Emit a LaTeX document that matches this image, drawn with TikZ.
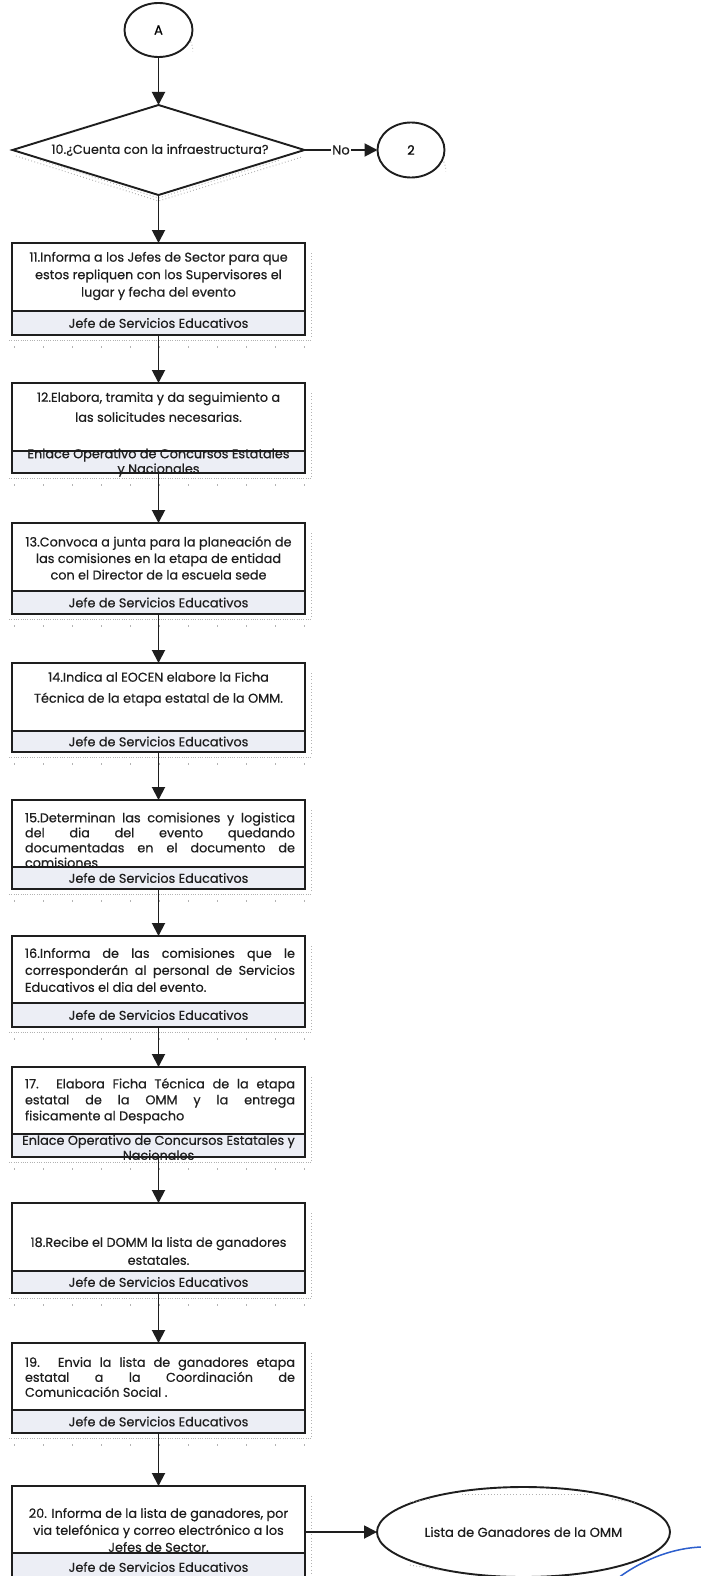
\documentclass[tikz,border=0pt]{standalone}
\usepackage{fontspec}
\setmainfont{Poppins}[FakeBold=0.5]
\usetikzlibrary{shapes.geometric,arrows.meta}
\definecolor{lbl}{RGB}{236,238,245}
\definecolor{ink}{RGB}{30,30,30}
\definecolor{pen}{RGB}{45,95,205}
\newcommand{\jl}[1]{\makebox[270pt][s]{#1}}
\newcommand{\procbox}[4]{%
  \path[speck] (311,#2+10) -- (311,#4+4);
  \path[speck,dash pattern=on 1pt off 1.3pt] (9,#4+5) -- (312,#4+5);
  \path[sparse] (14,#4+12) -- (312,#4+12);
  \node[upbox, minimum height={#3-#2}] (#1) at (158.5,{(#2+#3)/2}) {};
}
\newcommand{\lowbox}[3]{%
  \node[lowrect, minimum height={#3-#2}] (#1) at (158.5,{(#2+#3)/2}) {};
}
\begin{document}
\begin{tikzpicture}[x=1pt,y=-1pt,
  every node/.style={inner sep=0pt, outer sep=0pt},
  txt/.style={font=\fontsize{12.8}{#1}\selectfont, align=center, text=ink},
  txt/.default=17,
  jtxt/.style={font=\fontsize{12.8}{#1}\selectfont, align=left, text=ink},
  jtxt/.default=17,
  upbox/.style={draw=ink, line width=1.9pt, minimum width=293pt, fill=white},
  lowrect/.style={draw=ink, line width=1.9pt, minimum width=293pt, fill=lbl},
  conn/.style={draw=ink, line width=1.9pt, -{Triangle[length=13pt,width=13pt]}},
  speck/.style={draw=gray!60, line width=1pt, dash pattern=on 0.8pt off 2.4pt},
  sparse/.style={draw=gray!60, line width=1.2pt, dash pattern=on 1pt off 28pt},
  circ/.style={ellipse, draw=ink, line width=1.9pt, fill=white, font=\fontsize{13}{15}\selectfont},
]
\useasboundingbox[fill=white] (0,0) rectangle (701,1576);

% ---------- connector A ----------
\path[speck] (127,42) arc[start angle=200, end angle=360, x radius=34, y radius=27];
\node[circ, minimum width=68pt, minimum height=54pt] (A) at (158.5,30) {A};

% ---------- decision 10 ----------
\path[speck] (16,156) -- (158.5,201) -- (302,157);
\path[speck] (40,160) -- (158.5,198) -- (280,160);
\node[diamond, draw=ink, line width=1.9pt, fill=white, minimum width=292pt, minimum height=90pt] (d10) at (158.5,150) {};
\node[txt] (q10) at (160,150) {10.¿Cuenta con la infraestructura?};

% ---------- connector 2 ----------
\path[speck] (380,162) arc[start angle=200, end angle=360, x radius=34, y radius=27];
\node[circ, minimum width=67pt, minimum height=55pt] (c2) at (411,150) {2};

% ---------- boxes ----------
\procbox{b11}{243}{311}{335}
\node[txt=17.5] (t11) at (158.5,276) {11.Informa a los Jefes de Sector para que\\estos repliquen con los Supervisores el\\lugar y fecha del evento};
\lowbox{b11r}{311}{335}
\node[txt] (l11) at (158.5,323) {Jefe de Servicios Educativos};

\procbox{b12}{383}{451}{473}
\node[txt=20] (t12) at (158.5,407) {12.Elabora, tramita y da seguimiento a\\las solicitudes necesarias.};
\lowbox{b12r}{451}{473}
\node[txt=15] (l12) at (158.5,462.5) {Enlace Operativo de Concursos Estatales\\y Nacionales};

\procbox{b13}{523}{591}{614}
\node[txt=16.5] (t13) at (158.5,558) {13.Convoca a junta para la planeación de\\las comisiones en la etapa de entidad\\con el Director de la escuela sede};
\lowbox{b13r}{591}{614}
\node[txt] (l13) at (158.5,602.5) {Jefe de Servicios Educativos};

\procbox{b14}{663}{731}{752}
\node[txt=21] (t14) at (158.5,689) {14.Indica al EOCEN elabore la Ficha\\Técnica de la etapa estatal de la OMM.};
\lowbox{b14r}{731}{752}
\node[txt] (l14) at (158.5,741.5) {Jefe de Servicios Educativos};

\procbox{b15}{800}{867}{889}
\node[jtxt=15] (t15) at (160,840) {\jl{15.Determinan las comisiones y logistica}\\\jl{del dia del evento quedando}\\\jl{documentadas en el documento de}\\comisiones};
\lowbox{b15r}{867}{889}
\node[txt] (l15) at (158.5,878) {Jefe de Servicios Educativos};

\procbox{b16}{936}{1003}{1027}
\node[jtxt=17] (t16) at (160,970) {\jl{16.Informa de las comisiones que le}\\\jl{corresponderán al personal de Servicios}\\Educativos el dia del evento.};
\lowbox{b16r}{1003}{1027}
\node[txt] (l16) at (158.5,1015) {Jefe de Servicios Educativos};

\procbox{b17}{1067}{1134}{1157}
\node[jtxt=16] (t17) at (160,1101) {\jl{17. Elabora Ficha Técnica de la etapa}\\\jl{estatal de la OMM y la entrega}\\fisicamente al Despacho};
\lowbox{b17r}{1134}{1157}
\node[txt=15] (l17) at (158.5,1147.5) {Enlace Operativo de Concursos Estatales y\\Nacionales};

\procbox{b18}{1203}{1271}{1293}
\node[txt=18] (t18) at (158.5,1251) {18.Recibe el DOMM la lista de ganadores\\estatales.};
\lowbox{b18r}{1271}{1293}
\node[txt] (l18) at (158.5,1282) {Jefe de Servicios Educativos};

\procbox{b19}{1343}{1410}{1433}
\node[jtxt=15] (t19) at (160,1377) {\jl{19. Envia la lista de ganadores etapa}\\\jl{estatal a la Coordinación de}\\Comunicación Social .};
\lowbox{b19r}{1410}{1433}
\node[txt] (l19) at (158.5,1421.5) {Jefe de Servicios Educativos};

\procbox{b20}{1486}{1553}{1582}
\node[txt=17] (t20) at (158.5,1530) {20. Informa de la lista de ganadores, por\\via telefónica y correo electrónico a los\\Jefes de Sector.};
\lowbox{b20r}{1553}{1582}
\node[txt] (l20) at (158.5,1567) {Jefe de Servicios Educativos};

% ---------- final document ----------
\node[ellipse, draw=ink, line width=1.9pt, fill=white, minimum width=293pt, minimum height=90pt,
      font=\fontsize{13}{15}\selectfont, text=ink] (fin) at (523.5,1532) {Lista de Ganadores de la OMM};
\path[speck] (462,1494) -- (590,1494);
\path[speck] (410,1502) -- (432,1499);
\path[speck] (612,1499) -- (636,1503);
\path[speck] (410,1565) -- (440,1570);

% ---------- connectors ----------
\draw[conn] (A) -- (d10.north);
\draw[conn] (d10.east) -- node[fill=white, inner sep=1.5pt, font=\fontsize{13}{15}\selectfont, text=ink] (no) {No} (c2.west);
\draw[conn] (d10.south) -- (b11.north);
\draw[conn] (b11r.south) -- (b12.north);
\draw[conn] (b12r.south) -- (b13.north);
\draw[conn] (b13r.south) -- (b14.north);
\draw[conn] (b14r.south) -- (b15.north);
\draw[conn] (b15r.south) -- (b16.north);
\draw[conn] (b16r.south) -- (b17.north);
\draw[conn] (b17r.south) -- (b18.north);
\draw[conn] (b18r.south) -- (b19.north);
\draw[conn] (b19r.south) -- (b20.north);
\draw[conn] (fin.west -| b20.east) -- (fin.west);

% ---------- pen mark ----------
\draw[pen, line width=1.5pt, line cap=round] (618,1578) .. controls (645,1558) and (675,1548) .. (701,1547);
\end{tikzpicture}
\end{document}
